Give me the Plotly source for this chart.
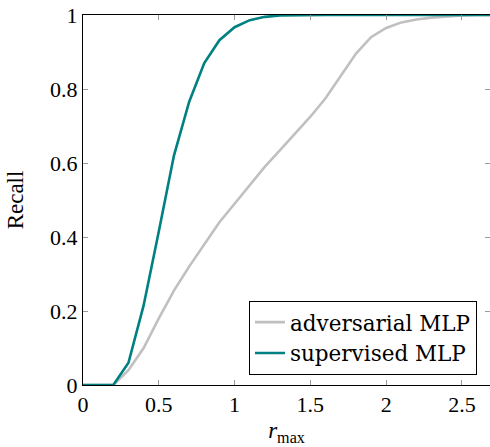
import plotly.graph_objects as go

r_max = [0.0, 0.1, 0.2, 0.3, 0.4, 0.5, 0.6, 0.7, 0.8, 0.9, 1.0, 1.1, 1.2, 1.3, 1.4,
         1.5, 1.6, 1.7, 1.8, 1.9, 2.0, 2.1, 2.2, 2.3, 2.4, 2.5, 2.6, 2.7]
recall_adversarial = [0.0, 0.0, 0.0, 0.04, 0.10, 0.18, 0.255, 0.32, 0.38, 0.44, 0.49,
                      0.54, 0.59, 0.635, 0.68, 0.725, 0.775, 0.835, 0.895, 0.94, 0.965,
                      0.98, 0.988, 0.993, 0.997, 0.999, 1.0, 1.0]
recall_supervised = [0.0, 0.0, 0.0, 0.06, 0.215, 0.415, 0.62, 0.765, 0.87, 0.932, 0.967,
                     0.986, 0.995, 0.999, 1.0, 1.0, 1.0, 1.0, 1.0, 1.0, 1.0,
                     1.0, 1.0, 1.0, 1.0, 1.0, 1.0, 1.0]
x_ticks = [0, 0.5, 1, 1.5, 2, 2.5]
x_tick_labels = ["0", "0.5", "1", "1.5", "2", "2.5"]
y_ticks = [0, 0.2, 0.4, 0.6, 0.8, 1]
y_tick_labels = ["0", "0.2", "0.4", "0.6", "0.8", "1"]

FONT = "Liberation Serif"
LEGEND_FONT = "DejaVu Serif"

fig = go.Figure()
fig.add_trace(go.Scatter(x=r_max, y=recall_adversarial, mode="lines",
                         name="adversarial MLP",
                         line=dict(color="#c0c0c0", width=2.6)))
fig.add_trace(go.Scatter(x=r_max, y=recall_supervised, mode="lines",
                         name="supervised MLP",
                         line=dict(color="#008080", width=2.6)))

fig.update_layout(
    width=490, height=447,
    margin=dict(l=83, r=0, t=15, b=62),
    paper_bgcolor="white", plot_bgcolor="white",
    font=dict(family=FONT, size=22, color="black"),
    showlegend=True,
    legend=dict(x=0.968, y=0.028, xanchor="right", yanchor="bottom",
                bordercolor="black", borderwidth=1, bgcolor="white",
                font=dict(family=LEGEND_FONT, size=21.5), tracegroupgap=0,
                itemwidth=30),
    xaxis=dict(range=[0, 2.685], tickvals=x_ticks, ticktext=x_tick_labels,
               ticks="inside", ticklen=5, tickcolor="#9a9a9a", tickwidth=1,
               showline=True, linecolor="black", linewidth=1, mirror="ticks",
               showgrid=False, zeroline=False,
               title=dict(text="<i>r</i><sub>max</sub>", standoff=5,
                          font=dict(family=FONT, size=23))),
    yaxis=dict(range=[0, 1], tickvals=y_ticks, ticktext=y_tick_labels,
               ticks="inside", ticklen=5, tickcolor="#9a9a9a", tickwidth=1,
               showline=True, linecolor="black", linewidth=1, mirror="ticks",
               showgrid=False, zeroline=False,
               title=dict(text="Recall", standoff=20,
                          font=dict(family=FONT, size=23))),
)

fig.write_html("out.html")
